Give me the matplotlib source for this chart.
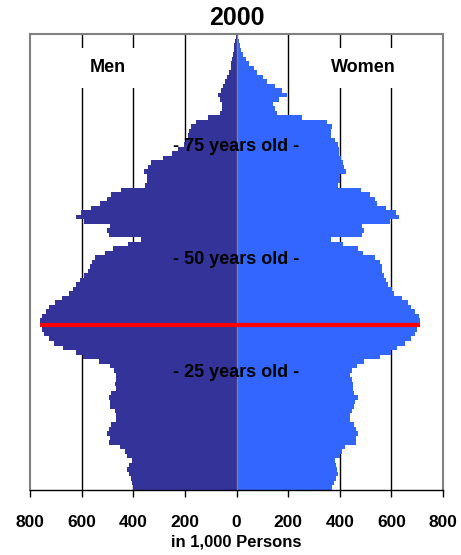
import matplotlib
matplotlib.use("Agg")
import matplotlib.pyplot as plt
import numpy as np

plt.rcParams["font.family"] = ["Liberation Sans", "DejaVu Sans"]
plt.rcParams["font.weight"] = "bold"

ages = np.arange(0, 101)

# population in 1,000 persons, age 0 .. 100
men = [400, 406, 409, 417, 423, 415, 404, 426, 433, 452,
       494, 492, 502, 494, 485, 467, 467, 471, 490, 491,
       494, 488, 467, 469, 467, 467, 474, 492, 533, 593,
       622, 673, 707, 727, 744, 755, 762, 762, 754, 739,
       726, 703, 677, 648, 635, 620, 606, 590, 575, 567,
       560, 548, 509, 477, 422, 370, 493, 500, 490, 590,
       620, 602, 563, 527, 502, 486, 448, 356, 345, 345,
       358, 342, 330, 285, 250, 225, 205, 195, 188, 183,
       177, 157, 109, 62, 58, 58, 64, 70, 61, 52,
       45, 38, 28, 23, 20, 17, 14, 11, 8, 5, 2]
women = [371, 379, 386, 395, 389, 387, 381, 400, 410, 422,
         462, 464, 472, 462, 456, 441, 440, 446, 455, 460,
         471, 455, 450, 450, 447, 440, 449, 466, 495, 556,
         598, 622, 652, 675, 693, 698, 711, 711, 708, 691,
         676, 663, 643, 611, 602, 585, 579, 572, 563, 563,
         557, 536, 491, 471, 413, 366, 486, 495, 486, 596,
         630, 618, 579, 544, 536, 518, 482, 392, 400, 402,
         423, 416, 412, 405, 398, 396, 392, 383, 366, 365,
         370, 350, 254, 158, 150, 140, 165, 197, 176, 148,
         117, 101, 80, 66, 49, 36, 27, 19, 13, 9, 4]

xticks = [-800, -600, -400, -200, 0, 200, 400, 600, 800]
age_marks = [25, 50, 75]

men = np.array(men)
women = np.array(women)

fig = plt.figure(figsize=(4.61, 5.55), dpi=100)
ax = fig.add_axes([30/461, 1-490/555, 413/461, 456/555])

# grid lines behind the bars
for g in [-600, -400, -200, 200, 400, 600]:
    ax.axvline(g, color="black", lw=1, zorder=0)

ax.barh(ages, -men, height=1.0, color="#333399", lw=0, zorder=2)
ax.barh(ages, women, height=1.0, color="#3366FF", lw=0, zorder=2)
ax.axvline(0, color="#808080", lw=1, zorder=3)

# widest cohort
imax = np.argmax(men)
ax.plot([-men[imax], women[imax]], [ages[imax], ages[imax]],
        color="#FF0000", lw=3, solid_capstyle="butt", zorder=4)

for a in age_marks:
    ax.text(0, a + 0.6, f"- {a} years old -", ha="center", va="center",
            fontsize=13, fontweight="bold", zorder=5)

ax.text(-499, 93, "Men", ha="center", va="center", fontsize=13,
        fontweight="bold", zorder=5,
        bbox=dict(facecolor="white", edgecolor="none", pad=8))
ax.text(490, 93, "Women", ha="center", va="center", fontsize=13,
        fontweight="bold", zorder=5,
        bbox=dict(facecolor="white", edgecolor="none", pad=8))

ax.set_xlim(-800, 800)
ax.set_ylim(-0.5, 100.5)
ax.set_xticks(xticks)
ax.set_xticklabels([str(abs(v)) for v in xticks], fontsize=12.5, fontweight="bold")
ax.set_yticks([])
ax.tick_params(axis="x", direction="out", length=5, width=1, color="black", pad=13)
for s in ["left", "right", "top"]:
    ax.spines[s].set_color("#808080")
    ax.spines[s].set_linewidth(1.5)
ax.spines["bottom"].set_color("black")
ax.spines["bottom"].set_linewidth(1)

ax.set_xlabel("in 1,000 Persons", fontsize=12, fontweight="bold", labelpad=3)
fig.text(237/461, 1-18/555, "2000", ha="center", va="center",
         fontsize=18, fontweight="bold")

fig.savefig("out.png", dpi=100)
